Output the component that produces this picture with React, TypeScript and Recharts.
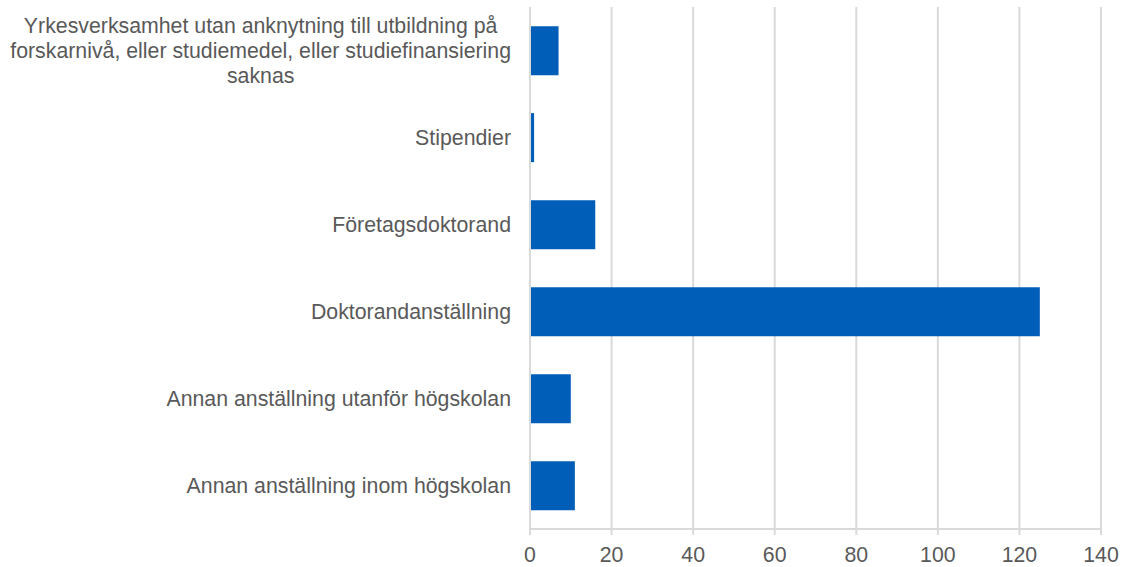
import React from 'react';
import { BarChart, Bar, XAxis, YAxis, CartesianGrid } from 'recharts';

// Category labels, top to bottom; line breaks as in the original
const categories: string[] = [
    'Yrkesverksamhet utan anknytning till utbildning på\nforskarnivå, eller studiemedel, eller studiefinansiering\nsaknas',
    'Stipendier',
    'Företagsdoktorand',
    'Doktorandanställning',
    'Annan anställning utanför högskolan',
    'Annan anställning inom högskolan',
];

const counts: number[] = [7, 1, 16, 125, 10, 11];

const xTicks: number[] = [0, 20, 40, 60, 80, 100, 120, 140];

const data = categories.map((name, i) => ({ name, count: counts[i] }));

const FONT = '"Liberation Sans", Arial, sans-serif';
const FONT_SIZE = 21.3;
const TEXT_COLOR = '#595959';
const GRID_COLOR = '#D9D9D9';
const BAR_COLOR = '#005EB8';
const LINE_HEIGHT = 25;

let measureCtx: CanvasRenderingContext2D | null = null;
const measure = (s: string): number => {
    if (!measureCtx) {
        const c = document.createElement('canvas');
        measureCtx = c.getContext('2d');
    }
    if (!measureCtx) return s.length * FONT_SIZE * 0.5;
    measureCtx.font = `${FONT_SIZE}px "Liberation Sans", Arial, sans-serif`;
    return measureCtx.measureText(s).width;
};

// Multi-line labels are centred on each other, right edge against the axis
const CategoryTick = (props: any) => {
    const { x, y, payload } = props;
    const lines: string[] = String(payload.value).split('\n');
    const widest = Math.max(...lines.map(measure));
    const cx = x - widest / 2;
    const first = -((lines.length - 1) * LINE_HEIGHT) / 2;
    return (
        <text
            x={cx}
            y={y}
            textAnchor="middle"
            fill={TEXT_COLOR}
            fontSize={FONT_SIZE}
            fontFamily={FONT}
        >
            {lines.map((line, i) => (
                <tspan key={i} x={cx} y={y + first + i * LINE_HEIGHT} dy="0.355em">
                    {line}
                </tspan>
            ))}
        </text>
    );
};

export default function App() {
    return (
        <div style={{ position: 'absolute', left: 0, top: 0, background: '#fff' }}>
            <BarChart
                width={1130}
                height={567}
                data={data}
                layout="vertical"
                margin={{ top: 7, right: 29, left: 0, bottom: 0 }}
                barCategoryGap="22%"
            >
                <CartesianGrid horizontal={false} stroke={GRID_COLOR} strokeWidth={2} />
                <XAxis
                    type="number"
                    dataKey="count"
                    domain={[0, 140]}
                    ticks={xTicks}
                    interval={0}
                    height={38}
                    axisLine={{ stroke: GRID_COLOR, strokeWidth: 2 }}
                    tickLine={{ stroke: GRID_COLOR, strokeWidth: 2 }}
                    tickSize={6}
                    tickMargin={12}
                    tick={{ fill: TEXT_COLOR, fontSize: FONT_SIZE, fontFamily: FONT }}
                />
                <XAxis
                    xAxisId="top"
                    orientation="top"
                    type="number"
                    domain={[0, 140]}
                    height={0}
                    tick={false}
                    tickLine={false}
                    axisLine={{ stroke: GRID_COLOR, strokeWidth: 2 }}
                />
                <YAxis
                    type="category"
                    dataKey="name"
                    width={530}
                    interval={0}
                    tickLine={false}
                    tickSize={0}
                    tickMargin={19}
                    axisLine={{ stroke: GRID_COLOR, strokeWidth: 2 }}
                    tick={<CategoryTick />}
                />
                <Bar dataKey="count" fill={BAR_COLOR} isAnimationActive={false} />
            </BarChart>
        </div>
    );
}
